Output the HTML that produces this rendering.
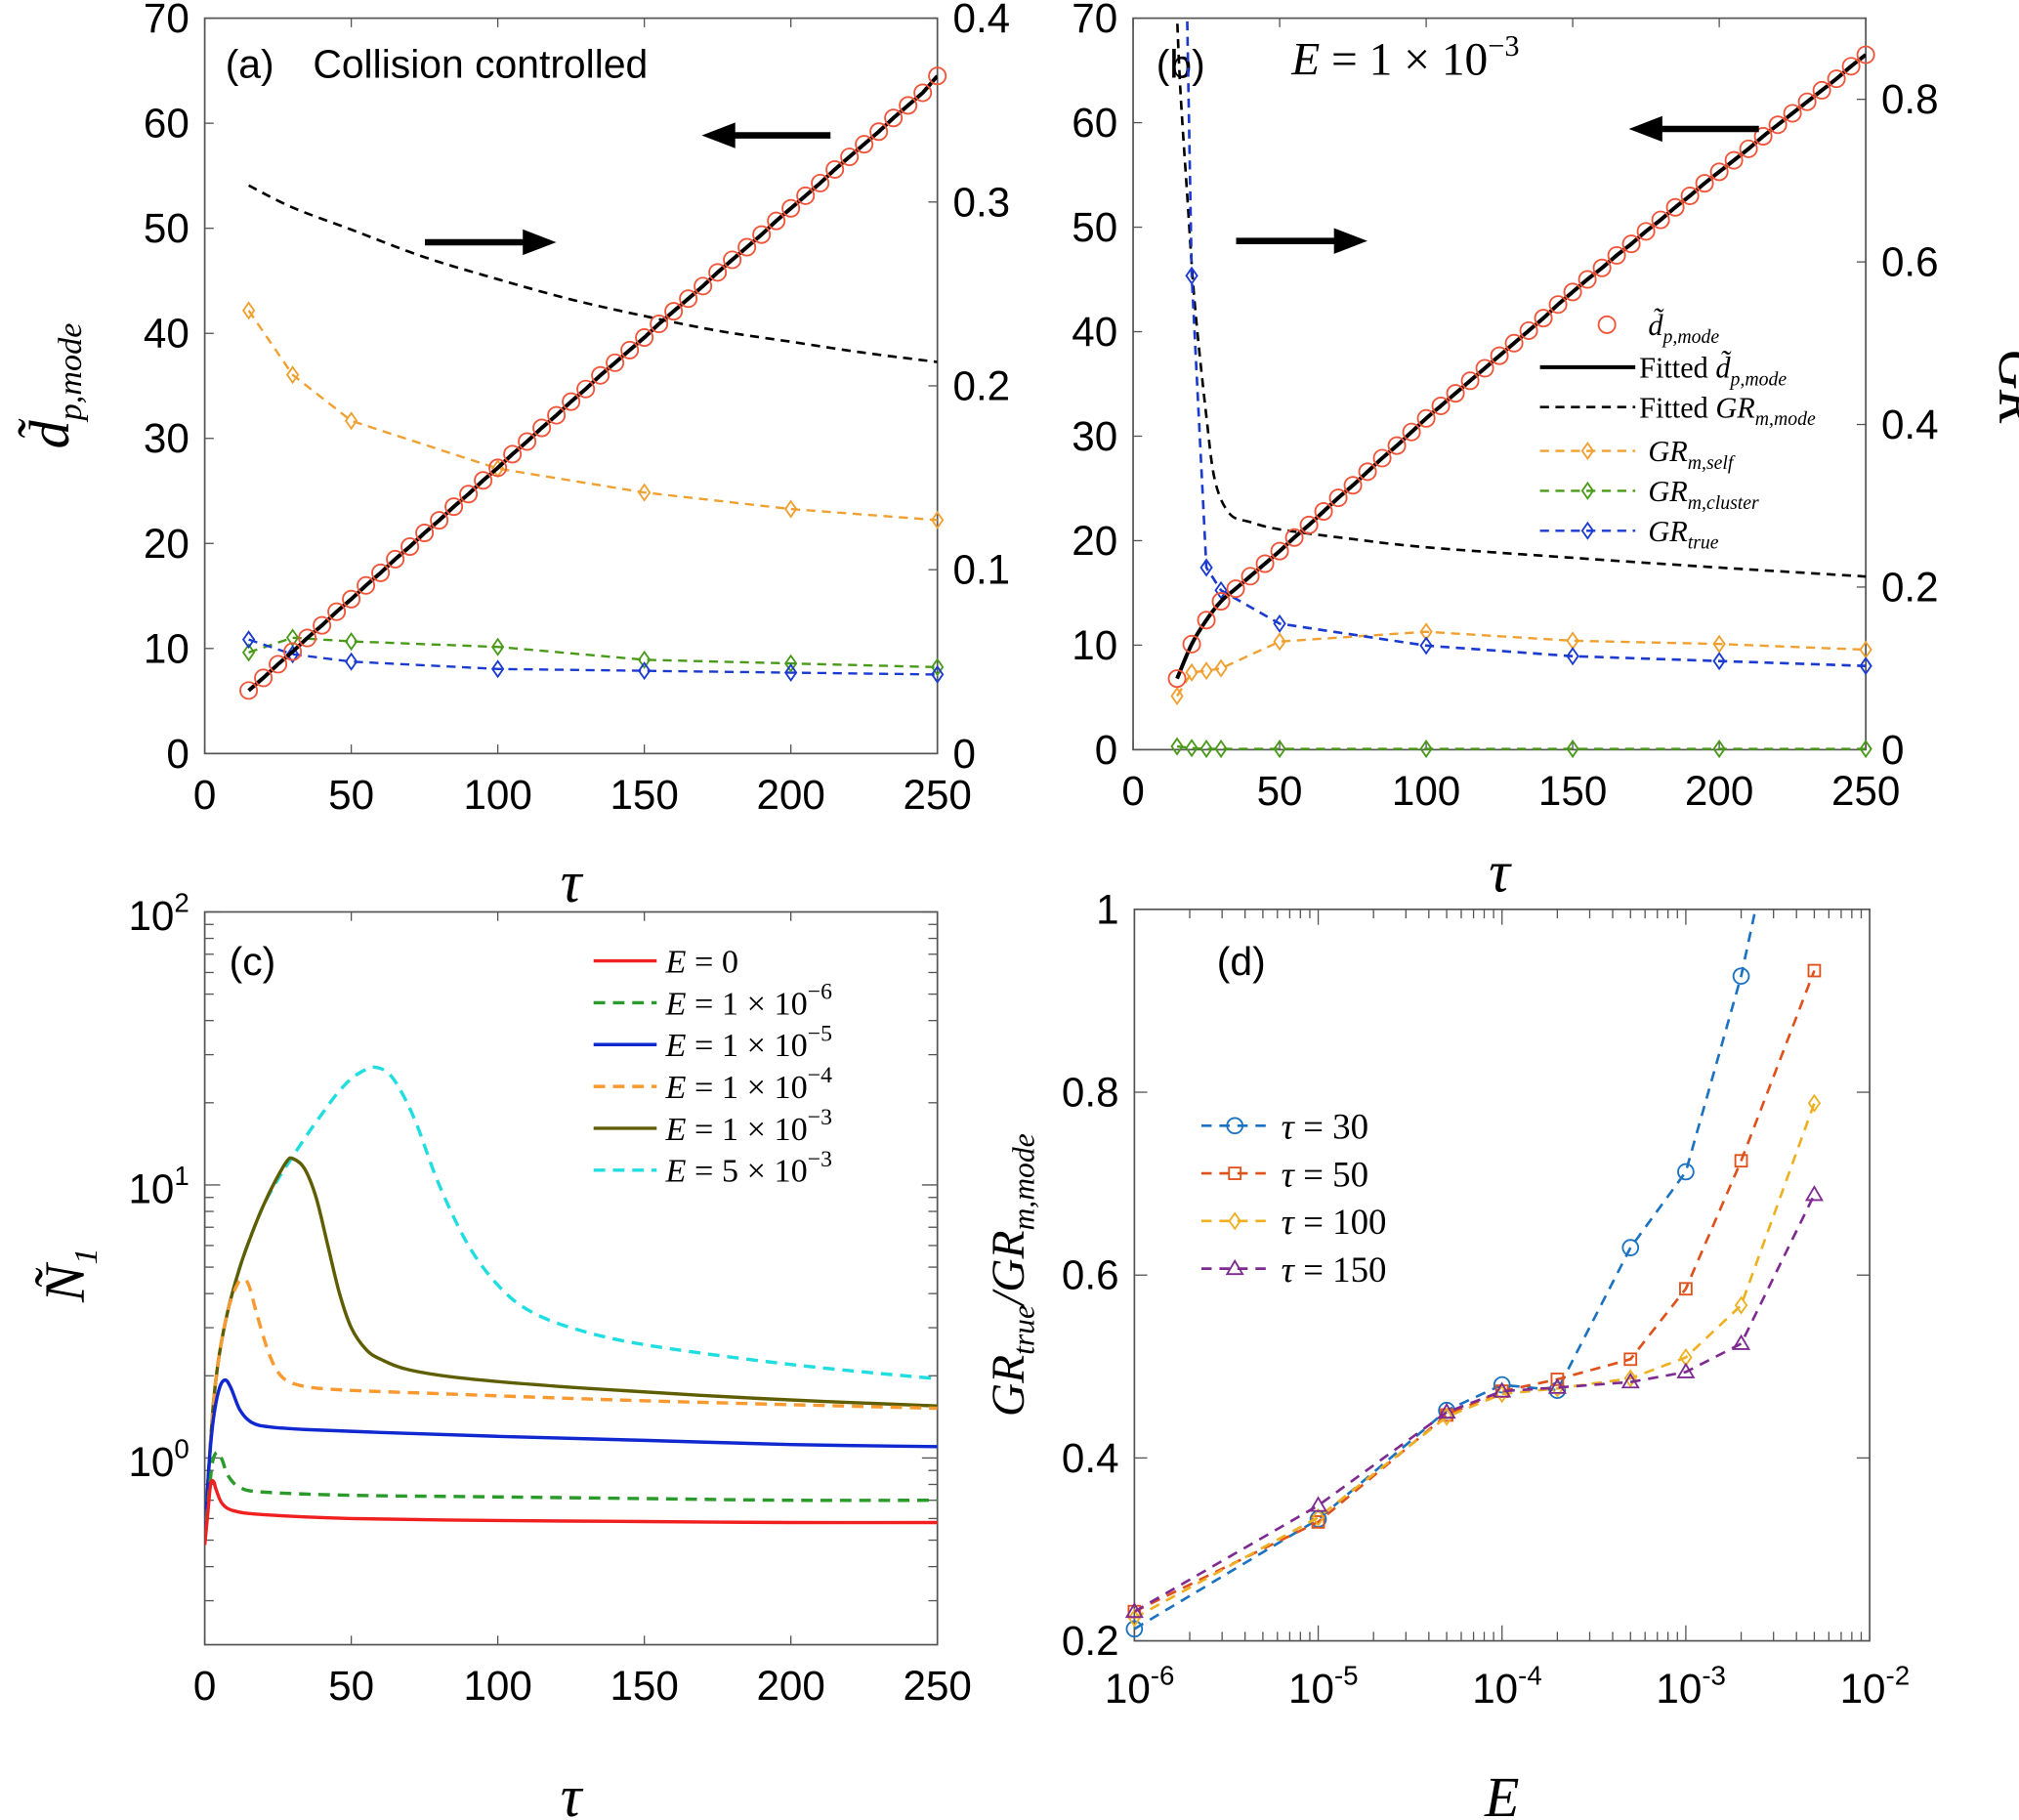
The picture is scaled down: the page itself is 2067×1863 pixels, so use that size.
<!DOCTYPE html>
<html><head><meta charset="utf-8"><style>
html,body{margin:0;padding:0;background:#fff;}
svg{display:block;}
text{font-family:"Liberation Sans",sans-serif;}
.it{font-family:"Liberation Serif",serif;font-style:italic;}
</style></head><body>
<svg id="fig" width="2067" height="1863" viewBox="0 0 1568 1413" xmlns="http://www.w3.org/2000/svg"></svg>
<script>
// ---------- Panel (a) data ----------
const aTauDense = [15,20,25,30,35,40,45,50,55,60,65,70,75,80,85,90,95,100,105,110,115,120,125,130,135,140,145,150,155,160,165,170,175,180,185,190,195,200,205,210,215,220,225,230,235,240,245,250];
const aDp = [6.0,7.2,8.5,9.7,11.0,12.2,13.5,14.7,16.0,17.2,18.5,19.7,21.0,22.2,23.5,24.7,26.0,27.2,28.5,29.7,31.0,32.2,33.5,34.7,36.0,37.2,38.4,39.6,40.9,42.1,43.3,44.5,45.8,47.0,48.2,49.4,50.7,51.9,53.1,54.3,55.6,56.8,58.0,59.2,60.5,61.7,62.9,64.5];
const aFitTau = [15,30,50,75,100,125,150,175,200,225,250];
const aFitGR = [0.309,0.297,0.285,0.270,0.258,0.247,0.238,0.230,0.224,0.218,0.213];
const aTau = [15,30,50,100,150,200,250];
const aSelf = [0.241,0.206,0.181,0.155,0.142,0.133,0.127];
const aCluster = [0.055,0.063,0.061,0.058,0.051,0.049,0.047];
const aTrue = [0.062,0.054,0.050,0.046,0.045,0.044,0.043];
// ---------- Panel (b) data ----------
const bDp = [6.8,10.1,12.4,14.2,15.4,16.6,17.8,19.0,20.3,21.5,22.8,24.1,25.3,26.6,27.9,29.1,30.4,31.7,32.9,34.1,35.3,36.5,37.7,38.9,40.1,41.3,42.6,43.8,45.0,46.1,47.3,48.4,49.6,50.7,51.9,53.0,54.2,55.3,56.4,57.5,58.7,59.8,60.9,62.0,63.1,64.2,65.4,66.5];
const bFitTau = [14.5,16,18.5,21,25,28,33,40,50,75,100,150,200,250];
const bFitGR = [0.95,0.82,0.68,0.55,0.41,0.33,0.29,0.28,0.271,0.259,0.249,0.236,0.224,0.213];
const bTau = [15,20,25,30,50,100,150,200,250];
const bSelf = [0.066,0.095,0.097,0.100,0.133,0.145,0.134,0.130,0.123];
const bCluster = [0.004,0.002,0.001,0.001,0.001,0.001,0.001,0.001,0.001];
const bTrueTau = [17,20,25,30,50,100,150,200,250];
const bTrue = [1.2,0.583,0.224,0.196,0.155,0.128,0.115,0.109,0.103];
// ---------- Panel (c) data ----------
const cTau0 = [0,1,2,3,4,6,10,20,50,100,150,200,250];
const cE0 = [0.48,0.62,0.8,0.82,0.76,0.68,0.64,0.62,0.6,0.59,0.585,0.58,0.58];
const cTau1 = [0,2,3,4.5,6,8,12,20,50,100,150,200,250];
const cE1 = [0.5,0.85,1.0,1.05,0.98,0.86,0.78,0.75,0.73,0.72,0.71,0.70,0.70];
const cTau2 = [0,1.5,3,5,7,9,12,16,22,35,60,100,150,200,250];
const cE2 = [0.5,0.95,1.4,1.8,1.93,1.8,1.5,1.35,1.3,1.27,1.24,1.2,1.16,1.12,1.1];
const cTau3 = [0,1.5,3,5,8,11,13,15,18,22,26,32,45,80,150,250];
const cE3 = [0.5,0.95,1.6,2.4,3.5,4.3,4.5,4.3,3.3,2.4,2.0,1.85,1.78,1.72,1.62,1.52];
const cTau4 = [0,1.5,3,5,8,12,16,20,24,28,30,34,38,42,46,50,55,60,70,90,130,190,250];
const cE4 = [0.5,0.95,1.6,2.4,3.5,5.0,6.6,8.4,10.3,12.2,12.5,11.5,9.0,6.0,4.0,3.0,2.5,2.3,2.1,1.95,1.8,1.65,1.55];
const cTau5 = [0,1.5,3,5,8,12,16,20,25,30,35,40,45,50,55,58,62,66,72,80,90,100,110,125,150,200,250];
const cE5 = [0.5,0.95,1.6,2.4,3.5,5.0,6.6,8.4,10.5,12.7,15.3,18.2,21.5,24.5,26.5,27,26,23,17,10,6,4.3,3.5,3.0,2.6,2.2,1.95];
// ---------- Panel (d) data ----------
const dE = [1e-6,1e-5,5e-5,1e-4,2e-4,5e-4,1e-3,2e-3,5e-3];
const d30 = [0.213,0.333,0.452,0.480,0.474,0.630,0.713,0.927,1.30];
const d50 = [0.232,0.330,0.447,0.473,0.486,0.508,0.585,0.725,0.933];
const d100 = [0.225,0.335,0.445,0.470,0.476,0.487,0.510,0.567,0.788];
const d150 = [0.232,0.348,0.450,0.473,0.477,0.483,0.494,0.525,0.688];

const NS = "http://www.w3.org/2000/svg";
const svg = document.getElementById('fig');
function el(tag, attrs, parent){const e=document.createElementNS(NS,tag);for(const k in attrs)e.setAttribute(k,attrs[k]);(parent||svg).appendChild(e);return e;}
function txt(x,y,s,size,anchor,cls,parent){const t=el('text',{x:x,y:y,'font-size':size,'text-anchor':anchor||'middle'},parent);if(cls)t.setAttribute('class',cls);t.innerHTML=s;return t;}
function lin(d0,d1,p0,p1){return v=>p0+(v-d0)*(p1-p0)/(d1-d0);}
function logs(d0,d1,p0,p1){return v=>p0+(Math.log10(v)-Math.log10(d0))*(p1-p0)/(Math.log10(d1)-Math.log10(d0));}

function clip(id,x,y,w,h){const d=el('defs',{});const c=el('clipPath',{id:id},d);el('rect',{x:x,y:y,width:w,height:h},c);}
function series(g,xs,ys,X,Y,color,dash,width,cid,smooth){
  const P=xs.map((v,i)=>[X(v),Y(ys[i])]);
  let d='M'+P[0][0].toFixed(2)+','+P[0][1].toFixed(2);
  for(let i=1;i<P.length;i++){
    if(smooth){
      const p0=P[Math.max(0,i-2)],p1=P[i-1],p2=P[i],p3=P[Math.min(P.length-1,i+1)];
      const c1=[p1[0]+(p2[0]-p0[0])/6,p1[1]+(p2[1]-p0[1])/6];
      const c2=[p2[0]-(p3[0]-p1[0])/6,p2[1]-(p3[1]-p1[1])/6];
      d+=`C${c1[0].toFixed(2)},${c1[1].toFixed(2)} ${c2[0].toFixed(2)},${c2[1].toFixed(2)} ${p2[0].toFixed(2)},${p2[1].toFixed(2)}`;
    } else d+='L'+P[i][0].toFixed(2)+','+P[i][1].toFixed(2);
  }
  return el('path',{d:d,fill:'none',stroke:color,'stroke-width':width||2,'stroke-dasharray':dash||'none','clip-path':'url(#'+cid+')'},g);
}
function marker(g,type,x,y,color,s){
  if(type==='circle')return el('circle',{cx:x,cy:y,r:s,fill:'none',stroke:color,'stroke-width':1.4},g);
  if(type==='diamond')return el('path',{d:`M${x},${y-s}L${x+s*0.7},${y}L${x},${y+s}L${x-s*0.7},${y}Z`,fill:'none',stroke:color,'stroke-width':1.4},g);
  if(type==='square')return el('rect',{x:x-s*0.75,y:y-s*0.75,width:s*1.5,height:s*1.5,fill:'none',stroke:color,'stroke-width':1.4},g);
  if(type==='tri')return el('path',{d:`M${x},${y-s}L${x+s},${y+s*0.7}L${x-s},${y+s*0.7}Z`,fill:'none',stroke:color,'stroke-width':1.4},g);
}
function box(g,L,T,R,B){el('rect',{x:L,y:T,width:R-L,height:B-T,fill:'none',stroke:'#555','stroke-width':1.3},g);}
function arrow(g,x1,x2,y){const dir=Math.sign(x2-x1);el('line',{x1:x1,y1:y,x2:x2-dir*22,y2:y,stroke:'#000','stroke-width':5},g);el('path',{d:`M${x2},${y}L${x2-dir*26},${y-10}L${x2-dir*26},${y+10}Z`,fill:'#000'},g);}

const ORG='#f0a030', GRN='#4a9a1a', BLU='#1a3ad0', RED='#f0553a';

// ================= Panel (a) =================
{
const g=el('g',{});
const L=159,R=728,T=14,B=585;
const X=lin(0,250,L,R), Y=lin(0,70,B,T), Y2=lin(0,0.4,B,T);
clip('ca',L,T-2,R-L,B-T+12);
box(g,L,T,R,B);
[0,50,100,150,200,250].forEach(v=>{el('line',{x1:X(v),y1:B,x2:X(v),y2:B-7,stroke:'#555'},g);el('line',{x1:X(v),y1:T,x2:X(v),y2:T+7,stroke:'#555'},g);txt(X(v),B+43,v,32,'middle',null,g);});
[0,10,20,30,40,50,60,70].forEach(v=>{el('line',{x1:L,y1:Y(v),x2:L+7,y2:Y(v),stroke:'#555'},g);txt(L-12,Y(v)+11,v,32,'end',null,g);});
[0,0.1,0.2,0.3,0.4].forEach(v=>{el('line',{x1:R,y1:Y2(v),x2:R-7,y2:Y2(v),stroke:'#555'},g);txt(R+12,Y2(v)+11,v,32,'start',null,g);});
const t1=txt(0,0,'d&#771;<tspan font-size="26" dy="10">p,mode</tspan>',44,'middle','it',g);t1.setAttribute('transform',`translate(53,${(T+B)/2}) rotate(-90)`);
txt((L+R)/2,700,'τ',46,'middle','it',g);
txt(175,60,'(a)',31,'start',null,g);txt(243,60,'Collision controlled',31,'start',null,g);
series(g,aFitTau,aFitGR,X,Y2,'#000','7,5',2,'ca',true);
series(g,aTau,aSelf,X,Y2,ORG,'7,5',1.8,'ca');
series(g,aTau,aCluster,X,Y2,GRN,'7,5',1.8,'ca');
series(g,aTau,aTrue,X,Y2,BLU,'7,5',1.8,'ca');
aTau.forEach((t,i)=>{marker(g,'diamond',X(t),Y2(aSelf[i]),ORG,6);marker(g,'diamond',X(t),Y2(aCluster[i]),GRN,6);marker(g,'diamond',X(t),Y2(aTrue[i]),BLU,6);});
series(g,aTauDense,aDp,X,Y,'#000',null,3,'ca');
aTauDense.forEach((t,i)=>marker(g,'circle',X(t),Y(aDp[i]),RED,6.5));
arrow(g,645,545,105);arrow(g,330,432,188);
}
// ================= Panel (b) =================
{
const g=el('g',{});
const L=880,R=1449,T=14,B=582;
const X=lin(0,250,L,R), Y=lin(0,70,B,T), Y2=lin(0,0.8,B,77);
clip('cb',L,T,R-L,B-T+12);
box(g,L,T,R,B);
[0,50,100,150,200,250].forEach(v=>{el('line',{x1:X(v),y1:B,x2:X(v),y2:B-7,stroke:'#555'},g);el('line',{x1:X(v),y1:T,x2:X(v),y2:T+7,stroke:'#555'},g);txt(X(v),B+43,v,32,'middle',null,g);});
[0,10,20,30,40,50,60,70].forEach(v=>{el('line',{x1:L,y1:Y(v),x2:L+7,y2:Y(v),stroke:'#555'},g);txt(L-12,Y(v)+11,v,32,'end',null,g);});
[0,0.2,0.4,0.6,0.8].forEach(v=>{el('line',{x1:R,y1:Y2(v),x2:R-7,y2:Y2(v),stroke:'#555'},g);txt(R+12,Y2(v)+11,v,32,'start',null,g);});
const t2=txt(0,0,'GR',44,'middle','it',g);t2.setAttribute('transform',`translate(1553,300) rotate(90)`);
txt((L+R)/2,692,'τ',46,'middle','it',g);
txt(898,60,'(b)',31,'start',null,g);
txt(1003,58,'E<tspan font-style="normal"> = 1 × 10</tspan><tspan font-size="23" dy="-15" font-style="normal">−3</tspan>',36,'start','it',g);
series(g,bFitTau,bFitGR,X,Y2,'#000','7,5',2,'cb',true);
series(g,bTau,bSelf,X,Y2,ORG,'7,5',1.8,'cb');
series(g,bTau,bCluster,X,Y2,GRN,'7,5',1.8,'cb');
series(g,bTrueTau,bTrue,X,Y2,BLU,'7,5',2,'cb');
bTau.forEach((t,i)=>{marker(g,'diamond',X(t),Y2(bSelf[i]),ORG,6);marker(g,'diamond',X(t),Y2(bCluster[i]),GRN,6);});
bTrueTau.forEach((t,i)=>{if(bTrue[i]<0.89)marker(g,'diamond',X(t),Y2(bTrue[i]),BLU,6);});
series(g,aTauDense,bDp,X,Y,'#000',null,3,'cb',true);
aTauDense.forEach((t,i)=>marker(g,'circle',X(t),Y(bDp[i]),RED,6.5));
arrow(g,1366,1265,100);arrow(g,960,1062,187);
const lg=el('g',{},g);
const ly=[252,285,316,350,381,412];
marker(lg,'circle',1248,ly[0],RED,6.5);
el('line',{x1:1196,y1:ly[1],x2:1270,y2:ly[1],stroke:'#000','stroke-width':3},lg);
el('line',{x1:1196,y1:ly[2],x2:1270,y2:ly[2],stroke:'#000','stroke-width':2,'stroke-dasharray':'7,5'},lg);
[[ORG,3],[GRN,4],[BLU,5]].forEach(([c,k])=>{el('line',{x1:1196,y1:ly[k],x2:1270,y2:ly[k],stroke:c,'stroke-width':1.8,'stroke-dasharray':'7,5'},lg);marker(lg,'diamond',1233,ly[k],c,6);});
txt(1280,ly[0]+8,'d&#771;<tspan font-size="15" dy="6">p,mode</tspan>',23,'start','it',lg);
txt(1273,ly[1]+8,'<tspan font-style="normal">Fitted </tspan>d&#771;<tspan font-size="15" dy="6">p,mode</tspan>',23,'start','it',lg);
txt(1273,ly[2]+8,'<tspan font-style="normal">Fitted </tspan>GR<tspan font-size="15" dy="6">m,mode</tspan>',23,'start','it',lg);
txt(1280,ly[3]+8,'GR<tspan font-size="15" dy="6">m,self</tspan>',23,'start','it',lg);
txt(1280,ly[4]+8,'GR<tspan font-size="15" dy="6">m,cluster</tspan>',23,'start','it',lg);
txt(1280,ly[5]+8,'GR<tspan font-size="15" dy="6">true</tspan>',23,'start','it',lg);
}
// ================= Panel (c) =================
{
const g=el('g',{});
const L=159,R=728,T=708,B=1277;
const X=lin(0,250,L,R), Y=logs(1,10,1132,920);
clip('cc',L,T,R-L,B-T);
box(g,L,T,R,B);
[0,50,100,150,200,250].forEach(v=>{el('line',{x1:X(v),y1:B,x2:X(v),y2:B-7,stroke:'#555'},g);el('line',{x1:X(v),y1:T,x2:X(v),y2:T+7,stroke:'#555'},g);txt(X(v),B+43,v,32,'middle',null,g);});
[0.1,1,10,100].forEach(v=>{for(let k=1;k<10;k++){const vv=v*k;if(vv>100)break;const yy=Y(vv);if(yy>B||yy<T)continue;const len=k===1?12:7;el('line',{x1:L,y1:yy,x2:L+len,y2:yy,stroke:'#555'},g);el('line',{x1:R,y1:yy,x2:R-len,y2:yy,stroke:'#555'},g);}});
[[0,1132],[1,920],[2,708]].forEach(([e,y])=>txt(L-12,y+14,'10<tspan font-size="21" dy="-14">'+e+'</tspan>',32,'end',null,g));
const t3=txt(0,0,'N&#771;<tspan font-size="26" dy="10">1</tspan>',44,'middle','it',g);t3.setAttribute('transform',`translate(65,990) rotate(-90)`);
txt((L+R)/2,1410,'τ',46,'middle','it',g);
txt(178,757,'(c)',31,'start',null,g);
const cs=[[cTau0,cE0,'#f02020',null],[cTau1,cE1,'#2a9a2a','9,6'],[cTau2,cE2,'#1028d0',null],[cTau3,cE3,'#f99a30','9,6'],[cTau4,cE4,'#5e5e00',null],[cTau5,cE5,'#20dde0','9,6']];
[cs[5],cs[4],cs[3],cs[2],cs[1],cs[0]].forEach(([xs,ys,c,d])=>series(g,xs,ys,X,Y,c,d,2.6,'cc',true));
const labs=['0','1 × 10<tspan font-size="18" dy="-12">−6</tspan>','1 × 10<tspan font-size="18" dy="-12">−5</tspan>','1 × 10<tspan font-size="18" dy="-12">−4</tspan>','1 × 10<tspan font-size="18" dy="-12">−3</tspan>','5 × 10<tspan font-size="18" dy="-12">−3</tspan>'];
const lg=el('g',{},g);
cs.forEach(([xs,ys,c,d],i)=>{const y=746+i*32.5;el('line',{x1:461,y1:y,x2:510,y2:y,stroke:c,'stroke-width':2.6,'stroke-dasharray':d||'none'},lg);txt(517,y+9,'E<tspan font-style="normal"> = '+labs[i]+'</tspan>',26,'start','it',lg);});
}
// ================= Panel (d) =================
{
const g=el('g',{});
const L=881,R=1452,T=706,B=1274;
const X=logs(1e-6,1e-2,L,R), Y=lin(0.2,1,B,T);
clip('cd',L,T,R-L,B-T);
box(g,L,T,R,B);
[1e-6,1e-5,1e-4,1e-3].forEach(v=>{for(let k=1;k<10;k++){const xx=X(v*k);const len=k===1?12:7;el('line',{x1:xx,y1:B,x2:xx,y2:B-len,stroke:'#555'},g);el('line',{x1:xx,y1:T,x2:xx,y2:T+len,stroke:'#555'},g);}});
[-6,-5,-4,-3,-2].forEach(e=>txt(X(Math.pow(10,e))+4,B+48,'10<tspan font-size="21" dy="-14">'+e+'</tspan>',32,'middle',null,g));
[0.2,0.4,0.6,0.8,1].forEach(v=>{el('line',{x1:L,y1:Y(v),x2:L+10,y2:Y(v),stroke:'#555'},g);el('line',{x1:R,y1:Y(v),x2:R-10,y2:Y(v),stroke:'#555'},g);txt(L-12,Y(v)+11,v,32,'end',null,g);});
const t4=txt(0,0,'GR<tspan font-size="24" dy="8">true</tspan><tspan dy="-8">/GR</tspan><tspan font-size="24" dy="8">m,mode</tspan>',36,'middle','it',g);t4.setAttribute('transform',`translate(795,990) rotate(-90)`);
txt((L+R)/2,1410,'E',44,'middle','it',g);
txt(945,757,'(d)',31,'start',null,g);
const ds=[[d30,'#1a72c0','circle','30'],[d50,'#e0501a','square','50'],[d100,'#eeb020','diamond','100'],[d150,'#7e2a90','tri','150']];
ds.forEach(([ys,c,m])=>{series(g,dE,ys,X,Y,c,'8,6',2,'cd');dE.forEach((e,i)=>{if(ys[i]<=1)marker(g,m,X(e),Y(ys[i]),c,6);});});
const lg=el('g',{},g);
ds.forEach(([ys,c,m,lab],i)=>{const y=874+i*37;el('line',{x1:933,y1:y,x2:985,y2:y,stroke:c,'stroke-width':2,'stroke-dasharray':'8,6'},lg);marker(lg,m,959,y,c,6);txt(995,y+10,'τ<tspan font-style="normal"> = '+lab+'</tspan>',28,'start','it',lg);});
}
</script>
</body></html>
